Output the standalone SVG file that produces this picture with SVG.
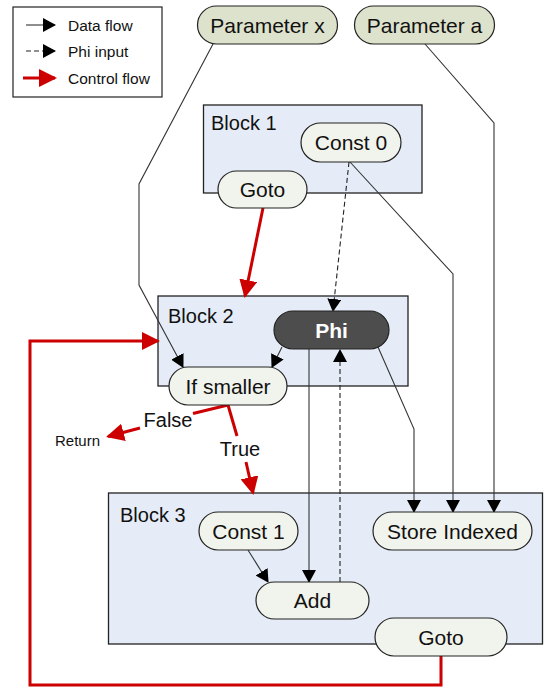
<svg xmlns="http://www.w3.org/2000/svg" width="544" height="692" viewBox="0 0 544 692">
<defs>
<style>
text{font-family:"Liberation Sans",Arial,sans-serif;fill:#111}
.blk{fill:#e6ecf7;stroke:#222;stroke-width:1.3}
.blabel{font-size:20px}
.node{fill:#f1f4ec;stroke:#222;stroke-width:1.2}
.param{fill:#dde2cc;stroke:#222;stroke-width:1.2}
.ntext{font-size:21px;text-anchor:middle}
.data{fill:none;stroke:#333;stroke-width:1.1;marker-end:url(#ah)}
.phi{fill:none;stroke:#222;stroke-width:1.1;stroke-dasharray:5,3;marker-end:url(#ah)}
.ctrl{fill:none;stroke:#cc0000;stroke-width:3}
.ctrla{fill:none;stroke:#cc0000;stroke-width:3;marker-end:url(#rh)}
.small{font-size:15.5px}
</style>
<marker id="ah" markerUnits="userSpaceOnUse" markerWidth="13" markerHeight="14" refX="12" refY="7" orient="auto" viewBox="0 0 13 14">
<path d="M0,0 L13,7 L0,14 z" fill="#000"/>
</marker>
<marker id="rh" markerUnits="userSpaceOnUse" markerWidth="18" markerHeight="18" refX="16" refY="9" orient="auto" viewBox="0 0 18 18">
<path d="M0,0 L18,9 L0,18 z" fill="#cc0000"/>
</marker>
</defs>
<rect width="544" height="692" fill="#fff"/>

<g id="legend">
<rect x="13" y="7" width="149" height="90" fill="#fff" stroke="#222" stroke-width="1.2"/>
<path class="data" d="M26,25 L55,25"/>
<path class="phi" d="M26,51 L55,51"/>
<path class="ctrla" d="M23,78 L55,78"/>
<text class="small" x="68" y="30.5">Data flow</text>
<text class="small" x="68" y="56.5">Phi input</text>
<text class="small" x="68" y="83.5">Control flow</text>
</g>

<g id="block1">
<rect class="blk" x="203.5" y="105" width="218.5" height="88"/>
<text class="blabel" x="211" y="130">Block 1</text>
</g>
<g id="block2">
<rect class="blk" x="158" y="296" width="250" height="90"/>
<text class="blabel" x="168" y="323">Block 2</text>
</g>
<g id="block3">
<rect class="blk" x="108.5" y="493" width="434" height="151"/>
<text class="blabel" x="120" y="522">Block 3</text>
</g>

<g id="connectors">
<path class="data" d="M213,44 L139,184 L139,285 L183,367"/>
<path class="data" d="M425,44 L494,123 L494,512"/>
<path class="data" d="M350,162 L453,274 L453,512"/>
<path class="phi" d="M349,162 L333,311"/>
<path class="data" d="M282,347 L272,367"/>
<path class="data" d="M309,349 L309,582"/>
<path class="phi" d="M340,582 L340,350"/>
<path class="data" d="M378,347 L414,429 L414,512"/>
<path class="data" d="M248,550 L268,582"/>
<path class="ctrla" d="M263,208 L245,296"/>
<path class="ctrl" d="M228,405 L193,413.5"/>
<path class="ctrla" d="M140,428 L108,436.5"/>
<path class="ctrl" d="M228,405 L237,436"/>
<path class="ctrla" d="M246,462 L253,493"/>
<path class="ctrla" d="M441,656 L441,685 L30,685 L30,341 L158,341"/>
<text x="168" y="427" font-size="20" text-anchor="middle">False</text>
<text x="240" y="456" font-size="20" text-anchor="middle">True</text>
<text x="55" y="446" font-size="15">Return</text>
</g>

<g id="param-x">
<rect class="param" x="197.5" y="6" width="140" height="38" rx="19"/>
<text class="ntext" x="267.5" y="32.5">Parameter x</text>
</g>
<g id="param-a">
<rect class="param" x="354.5" y="6" width="140" height="38" rx="19"/>
<text class="ntext" x="424.5" y="32.5">Parameter a</text>
</g>
<g id="const0">
<rect class="node" x="301" y="123" width="100" height="39" rx="19.5"/>
<text class="ntext" x="351" y="150">Const 0</text>
</g>
<g id="goto1">
<rect class="node" x="218" y="171" width="89" height="37" rx="18.5"/>
<text class="ntext" x="262.5" y="197">Goto</text>
</g>
<g id="phi">
<rect x="274" y="311" width="115" height="38" rx="19" fill="#4d4d4d" stroke="#222" stroke-width="1.2"/>
<text class="ntext" x="331.5" y="337.5" style="fill:#fff;font-weight:bold">Phi</text>
</g>
<g id="if-smaller">
<rect class="node" x="169" y="367" width="118" height="38" rx="19"/>
<text class="ntext" x="228" y="393.5">If smaller</text>
</g>
<g id="const1">
<rect class="node" x="199" y="512" width="99" height="38" rx="19"/>
<text class="ntext" x="248.5" y="538.5">Const 1</text>
</g>
<g id="store-indexed">
<rect class="node" x="373" y="512" width="159" height="38" rx="19"/>
<text class="ntext" x="452.5" y="538.5">Store Indexed</text>
</g>
<g id="add">
<rect class="node" x="256" y="582" width="113" height="37" rx="18.5"/>
<text class="ntext" x="312.5" y="608">Add</text>
</g>
<g id="goto3">
<rect class="node" x="375" y="618" width="132" height="38" rx="19"/>
<text class="ntext" x="441" y="644.5">Goto</text>
</g>
</svg>
